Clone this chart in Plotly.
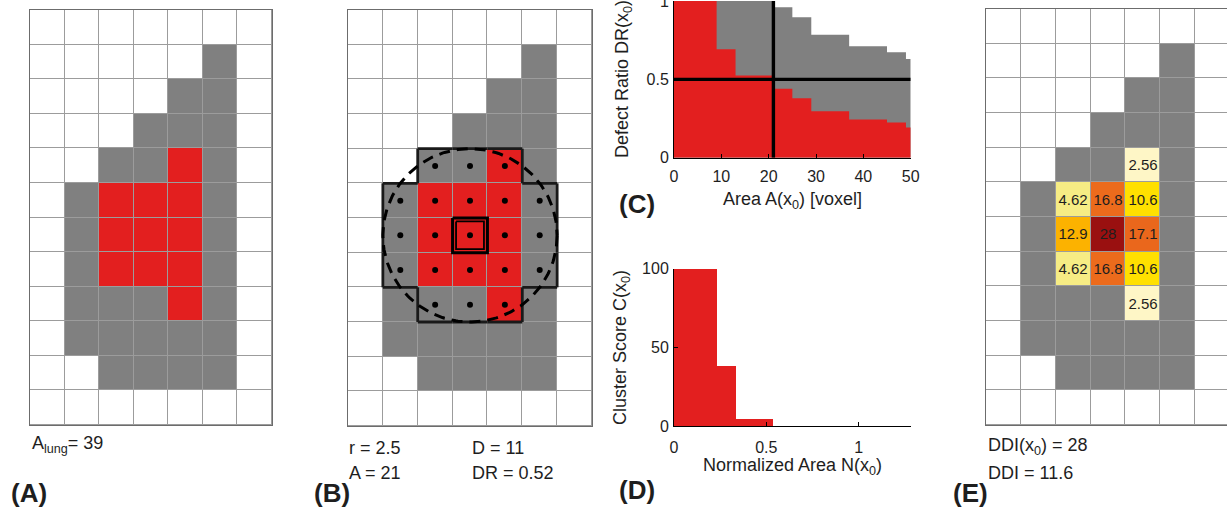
import numpy as np
import plotly.graph_objects as go

W, H = 1227, 510

# ---------------- data ----------------
# lung mask: 0 outside, 1 lung tissue, 2 defect voxel (rows top->bottom, 7 columns)
lung_rows = [
    [0, 0, 0, 0, 0, 0, 0],
    [0, 0, 0, 0, 0, 1, 0],
    [0, 0, 0, 0, 1, 1, 0],
    [0, 0, 0, 1, 1, 1, 0],
    [0, 0, 1, 1, 2, 1, 0],
    [0, 1, 2, 2, 2, 1, 0],
    [0, 1, 2, 2, 2, 1, 0],
    [0, 1, 2, 2, 2, 1, 0],
    [0, 1, 1, 1, 2, 1, 0],
    [0, 1, 1, 1, 1, 1, 0],
    [0, 0, 1, 1, 1, 1, 0],
    [0, 0, 0, 0, 0, 0, 0],
]
center_row, center_col = 6, 3
radius = 2.5
a_lung = 39

# panel C: defect ratio vs neighbourhood area (step intervals)
area_edges = [0, 9, 13, 21, 25, 29, 37, 45, 49, 50]
dr_defect = [1.0, 0.692, 0.524, 0.44, 0.379, 0.297, 0.244, 0.224, 0.193]
dr_lung = [1.0, 1.0, 1.0, 0.96, 0.897, 0.784, 0.711, 0.673, 0.63]
area_threshold = 21
dr_threshold = 0.5
area_max = 50

# panel D: cluster score vs normalized area
cluster_area_edges = [0, 9, 13, 21]
cluster_score = [100, 38.5, 4.7]

# panel E: defect distribution index per defect voxel
ddi_cells = {
    (4, 4): 2.56,
    (5, 2): 4.62, (5, 3): 16.8, (5, 4): 10.6,
    (6, 2): 12.9, (6, 3): 28, (6, 4): 17.1,
    (7, 2): 4.62, (7, 3): 16.8, (7, 4): 10.6,
    (8, 4): 2.56,
}

# ---------------- styles ----------------
RED = "#E31F1F"
GRAY = "#808080"
GRID = "#9c9c9c"
TXT = "#1e1e1e"
FONT = "Liberation Sans, Arial, sans-serif"
ddi_scale = [
    [0.0, "#FFFBE0"], [0.0914, "#FEF6C6"], [0.165, "#F6EC84"],
    [0.379, "#FFE000"], [0.461, "#FCB200"], [0.6, "#EC6B1C"],
    [0.611, "#EA671C"], [1.0, "#9A1010"],
]

def fx(p):
    return p / W

def fy(p):
    return 1 - p / H

nrows, ncols = len(lung_rows), len(lung_rows[0])
lung = np.array(lung_rows)
cols = list(range(ncols))
rows = list(range(nrows))

fig = go.Figure()

disc_scale = [[0, "white"], [0.333, "white"], [0.333, GRAY], [0.667, GRAY],
              [0.667, RED], [1, RED]]

def grid_heat(z, xa, ya):
    fig.add_trace(go.Heatmap(z=z, x=cols, y=rows, xaxis=xa, yaxis=ya,
                             colorscale=disc_scale, zmin=0, zmax=2,
                             showscale=False, xgap=1, ygap=1, hoverinfo="skip"))

# Panel A
grid_heat(lung, "x", "y")
# Panel B
grid_heat(lung, "x2", "y2")

# neighbourhood
nb = [(r, c) for r in rows for c in cols
      if (r - center_row) ** 2 + (c - center_col) ** 2 <= radius ** 2]
nbset = set(nb)
# outline
ox, oy = [], []
for (r, c) in nb:
    for dr, dc, seg in [(-1, 0, ((c - .5, r - .5), (c + .5, r - .5))),
                        (1, 0, ((c - .5, r + .5), (c + .5, r + .5))),
                        (0, -1, ((c - .5, r - .5), (c - .5, r + .5))),
                        (0, 1, ((c + .5, r - .5), (c + .5, r + .5)))]:
        if (r + dr, c + dc) not in nbset:
            ox += [seg[0][0], seg[1][0], None]
            oy += [seg[0][1], seg[1][1], None]
fig.add_trace(go.Scatter(x=ox, y=oy, xaxis="x2", yaxis="y2", mode="lines",
                         line=dict(color="#1a1a1a", width=2.8), hoverinfo="skip"))
# circle
th = np.linspace(0, 2 * np.pi, 240)
fig.add_trace(go.Scatter(x=center_col + radius * np.cos(th),
                         y=center_row + radius * np.sin(th),
                         xaxis="x2", yaxis="y2", mode="lines",
                         line=dict(color="black", width=3, dash="11px,7px"),
                         hoverinfo="skip"))
# centre voxel square (double line)
for inset, w in [(0.0, 3), (0.1, 1.8)]:
    s = 0.5 - inset
    fig.add_trace(go.Scatter(
        x=[center_col - s, center_col + s, center_col + s, center_col - s, center_col - s],
        y=[center_row - s, center_row - s, center_row + s, center_row + s, center_row - s],
        xaxis="x2", yaxis="y2", mode="lines",
        line=dict(color="black", width=w), hoverinfo="skip"))
# dots
fig.add_trace(go.Scatter(x=[c for r, c in nb], y=[r for r, c in nb],
                         xaxis="x2", yaxis="y2", mode="markers",
                         marker=dict(color="black", size=6), hoverinfo="skip"))

# Panel C
fig.add_trace(go.Scatter(x=area_edges, y=dr_lung + [dr_lung[-1]], xaxis="x3", yaxis="y3",
                         mode="lines", line=dict(width=0, shape="hv", color=GRAY),
                         fill="tozeroy", fillcolor=GRAY, hoverinfo="skip"))
fig.add_trace(go.Scatter(x=area_edges, y=dr_defect + [dr_defect[-1]], xaxis="x3", yaxis="y3",
                         mode="lines", line=dict(width=0, shape="hv", color=RED),
                         fill="tozeroy", fillcolor=RED, hoverinfo="skip"))
fig.add_trace(go.Scatter(x=[area_threshold, area_threshold], y=[0, 1], xaxis="x3", yaxis="y3",
                         mode="lines", line=dict(color="black", width=3.4), hoverinfo="skip"))
fig.add_trace(go.Scatter(x=[0, area_max], y=[dr_threshold, dr_threshold], xaxis="x3", yaxis="y3",
                         mode="lines", line=dict(color="black", width=3.4), hoverinfo="skip"))

# Panel D
n_edges = [a / a_lung for a in cluster_area_edges]
centers = [(n_edges[i] + n_edges[i + 1]) / 2 for i in range(len(cluster_score))]
widths = [n_edges[i + 1] - n_edges[i] for i in range(len(cluster_score))]
fig.add_trace(go.Bar(x=centers, y=cluster_score, width=widths, xaxis="x4", yaxis="y4",
                     marker=dict(color=RED, line=dict(width=0)), hoverinfo="skip"))

# Panel E
base_e = (lung > 0).astype(int)
grid_heat(base_e, "x5", "y5")
zE = np.full((nrows, ncols), np.nan)
tE = [["" for _ in cols] for _ in rows]
for (r, c), v in ddi_cells.items():
    zE[r, c] = v
    tE[r][c] = f"{v:.3g}"
fig.add_trace(go.Heatmap(z=zE, x=cols, y=rows, xaxis="x5", yaxis="y5",
                         colorscale=ddi_scale, zmin=0, zmax=max(ddi_cells.values()),
                         showscale=False, xgap=1, ygap=1, text=tE,
                         texttemplate="%{text}", textfont=dict(size=15, color=TXT, family=FONT),
                         hoverinfo="skip"))

# ---------------- layout ----------------
def grid_axes(xd, yd, xr=None):
    xa = dict(domain=[fx(xd[0]), fx(xd[1])], range=xr or [-0.5, ncols - 0.5],
              showgrid=False, zeroline=False, showticklabels=False, ticks="",
              showline=True, mirror=True, linecolor="#6c6c6c", linewidth=1,
              fixedrange=True, automargin=False)
    ya = dict(domain=[fy(yd[1]), fy(yd[0])], range=[nrows - 0.5, -0.5],
              showgrid=False, zeroline=False, showticklabels=False, ticks="",
              showline=True, mirror=True, linecolor="#6c6c6c", linewidth=1,
              fixedrange=True, automargin=False)
    return xa, ya

xa1, ya1 = grid_axes((30, 272), (10, 425))
xa2, ya2 = grid_axes((348, 592), (10, 426))
xa5, ya5 = grid_axes((986, 1227), (9, 425), xr=[-0.5, -0.5 + 241 / (244 / 7)])

def data_axes(xd, yd, xr, xt, yr, yt):
    common = dict(showgrid=False, zeroline=False, ticks="inside", ticklen=4,
                  tickcolor="black", showline=True, linecolor="black", linewidth=1,
                  tickfont=dict(size=16, color=TXT, family=FONT), fixedrange=True,
                  automargin=False, ticklabeloverflow="allow")
    xa = dict(domain=[fx(xd[0]), fx(xd[1])], range=xr, tickvals=xt,
              ticktext=[f"{v:g}" for v in xt], ticklabelstandoff=4, **common)
    ya = dict(domain=[fy(yd[1]), fy(yd[0])], range=yr, tickvals=yt,
              ticktext=[f"{v:g}" for v in yt], ticklabelstandoff=1, **common)
    return xa, ya

xa3, ya3 = data_axes((674, 910.7), (1, 157.7), [0, area_max], [0, 10, 20, 30, 40, 50],
                     [0, 1], [0, 0.5, 1])
xa4, ya4 = data_axes((674, 910.7), (268.7, 426), [0, area_max / a_lung], [0, 0.5, 1],
                     [0, 100], [0, 50, 100])
xa4["ticklabelstandoff"] = 7

for i, (xa, ya) in enumerate([(xa1, ya1), (xa2, ya2), (xa3, ya3), (xa4, ya4), (xa5, ya5)], 1):
    s = "" if i == 1 else str(i)
    xa["anchor"] = "y" + s
    ya["anchor"] = "x" + s
    fig.layout["xaxis" + s] = xa
    fig.layout["yaxis" + s] = ya

# grid-line backgrounds
shapes = []
for s in ["", "2", "5"]:
    shapes.append(dict(type="rect", xref="x" + s, yref="y" + s, x0=-0.5, x1=ncols - 0.5,
                       y0=-0.5, y1=nrows - 0.5, fillcolor=GRID, line=dict(width=0),
                       layer="below"))

anns = []
def txt(x, y, s, size=18, bold=False, xanchor="left", angle=0):
    anns.append(dict(x=fx(x), y=fy(y), xref="paper", yref="paper", text=f"<b>{s}</b>" if bold else s,
                     showarrow=False, xanchor=xanchor, yanchor="middle", textangle=angle,
                     font=dict(size=size, color=TXT, family=FONT)))

txt(30, 444, f"A<sub>lung</sub>= {a_lung}")
txt(9, 493, "(A)", size=26, bold=True)
txt(347, 448, f"r = {radius:g}")
txt(347, 473, f"A = {len(nb)}")
n_def = sum(1 for r, c in nb if lung[r, c] == 2)
txt(470, 448, f"D = {n_def}")
txt(470, 473, f"DR = {n_def / len(nb):.2f}")
txt(312, 493, "(B)", size=26, bold=True)
txt(617, 204, "(C)", size=26, bold=True)
txt(617, 490, "(D)", size=26, bold=True)
txt(951, 493, "(E)", size=26, bold=True)
vals = list(ddi_cells.values())
txt(986, 446, f"DDI(x<sub>0</sub>) = {max(vals):g}")
txt(986, 473, f"DDI = {np.mean(vals):.1f}")
txt(792, 201, "Area A(x<sub>0</sub>) [voxel]", xanchor="center")
txt(623, 79, "Defect Ratio DR(x<sub>0</sub>)", xanchor="center", angle=-90)
txt(792, 466, "Normalized Area N(x<sub>0</sub>)", xanchor="center")
txt(621, 347, "Cluster Score C(x<sub>0</sub>)", xanchor="center", angle=-90)

fig.update_layout(width=W, height=H, margin=dict(l=0, r=0, t=0, b=0, pad=0, autoexpand=False),
                  paper_bgcolor="white", plot_bgcolor="white", showlegend=False,
                  shapes=shapes, annotations=anns, bargap=0,
                  font=dict(family=FONT, color=TXT))

fig.write_html("out.html", config={"displayModeBar": False})
